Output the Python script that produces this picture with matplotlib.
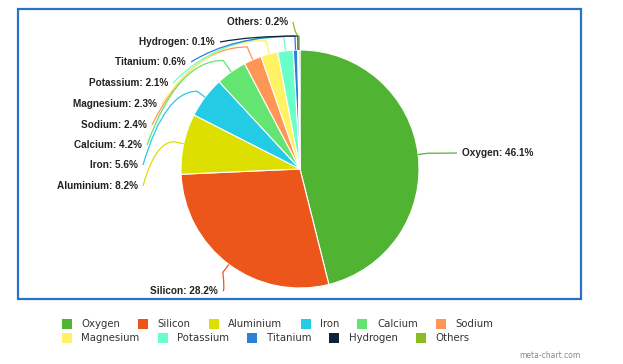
import numpy as np
import matplotlib.pyplot as plt
from matplotlib.patches import Rectangle, PathPatch
from matplotlib.path import Path

# data
elements = ['Oxygen', 'Silicon', 'Aluminium', 'Iron', 'Calcium', 'Sodium',
            'Magnesium', 'Potassium', 'Titanium', 'Hydrogen', 'Others']
shares = [46.1, 28.2, 8.2, 5.6, 4.2, 2.4, 2.3, 2.1, 0.6, 0.1, 0.2]
colors = ['#50b432', '#ed561b', '#dddf00', '#24cbe5', '#64e572', '#ff9655',
          '#fff263', '#6affc8', '#2f7ed8', '#0d233a', '#8bbc21']

# label placement in pixels (text anchor x, y), layout only
label_pos = {
    'Oxygen': (462, 153, 'left'),
    'Silicon': (218, 291, 'right'),
    'Aluminium': (138, 186, 'right'),
    'Iron': (138, 165, 'right'),
    'Calcium': (142, 145, 'right'),
    'Sodium': (147, 125, 'right'),
    'Magnesium': (157, 104, 'right'),
    'Potassium': (168, 83, 'right'),
    'Titanium': (186, 62, 'right'),
    'Hydrogen': (215, 42, 'right'),
    'Others': (288, 22, 'right'),
}

W, H = 623, 364
fig = plt.figure(figsize=(W / 100, H / 100), dpi=100)
ax = fig.add_axes([0, 0, 1, 1])

def Y(py):
    return H - py

cx, cy, r = 300, Y(169), 119
ax.pie(shares, colors=colors, startangle=90, counterclock=False,
       center=(cx, cy), radius=r,
       wedgeprops=dict(edgecolor='white', linewidth=0.8))
ax.set_xlim(0, W)
ax.set_ylim(0, H)
ax.set_aspect('equal')
ax.axis('off')

# frame
ax.add_patch(Rectangle((18, Y(299)), 563, 290, fill=False,
                       edgecolor='#2a72c6', linewidth=1.6))

# data labels with connectors
cum = np.cumsum([0] + shares[:-1])
for name, v, c0, col in zip(elements, shares, cum, colors):
    ang = np.deg2rad(90 - 360 * (c0 + v / 2) / 100)
    d = np.array([np.cos(ang), np.sin(ang)])
    p0 = np.array([cx, cy]) + r * d
    ext = 14 if d[1] > 0.8 else 10
    p1 = np.array([cx, cy]) + (r + ext) * d
    lx, ly, ha = label_pos[name]
    ax.text(lx, Y(ly), f'{name}: {v}%', ha=ha, va='center', fontsize=7.2,
            fontweight='bold', family='Liberation Sans', color='#222222')
    a = np.array([lx + (5 if ha == 'right' else -5), Y(ly)])
    ctrl = np.array([a[0] + 0.4 * (p1[0] - a[0]), p1[1]])
    if name == 'Silicon':
        ctrl = np.array([p1[0] + 2, a[1]])
    path = Path([a, ctrl, p1, p0],
                [Path.MOVETO, Path.CURVE3, Path.CURVE3, Path.LINETO])
    ax.add_patch(PathPatch(path, fill=False, edgecolor=col, linewidth=0.9))

# legend, flowing layout
renderer = fig.canvas.get_renderer()
per_row = 6
for i, (name, col) in enumerate(zip(elements, colors)):
    row, k = divmod(i, per_row)
    if k == 0:
        x = 62
    yy = Y(324 + row * 14)
    ax.add_patch(Rectangle((x, yy - 5), 10, 10, facecolor=col, edgecolor='none'))
    t = ax.text(x + 19.5, yy, name, ha='left', va='center', fontsize=7.3,
                family='DejaVu Sans', color='#333333')
    bb = t.get_window_extent(renderer)
    x = bb.x1 + 18

ax.text(581, Y(355), 'meta-chart.com', ha='right', va='center', fontsize=5.5,
        family='DejaVu Sans', color='#888888')

fig.savefig('out.png', dpi=100)
